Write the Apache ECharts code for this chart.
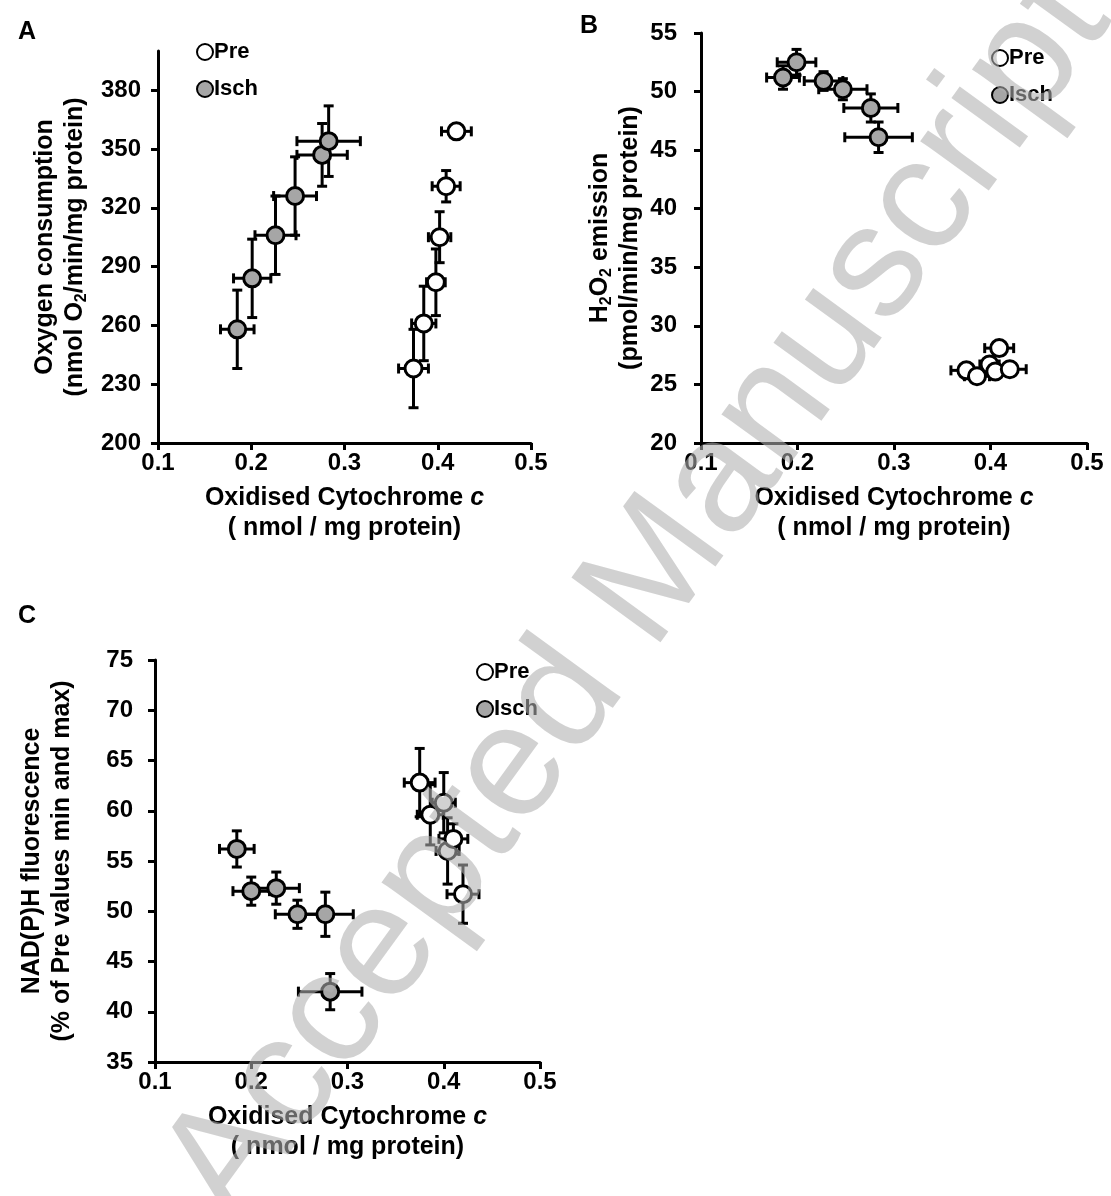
<!DOCTYPE html>
<html>
<head>
<meta charset="utf-8">
<script src="https://cdn.jsdelivr.net/npm/echarts@6/dist/echarts.min.js"></script>
<style>
  html, body { margin: 0; padding: 0; background: #fff; }
  #main { width: 1111px; height: 1196px; }
</style>
</head>
<body>
<div id="main"></div>
<script>
// --- data ---
// panel A: oxygen consumption
var aPreX = [0.374, 0.385, 0.398, 0.402, 0.409, 0.420];
var aPreY = [238, 261, 282, 305, 331, 359];
var aPreXErr = [0.016, 0.013, 0.010, 0.012, 0.015, 0.016];
var aPreYErr = [20, 19, 17, 13, 8, 3];
var aIschX = [0.185, 0.201, 0.226, 0.247, 0.276, 0.283];
var aIschY = [258, 284, 306, 326, 347, 354];
var aIschXErr = [0.018, 0.020, 0.022, 0.023, 0.027, 0.034];
var aIschYErr = [20, 20, 20, 20, 16, 18];

// panel B: H2O2 emission
var bPreX = [0.375, 0.386, 0.399, 0.405, 0.409, 0.420];
var bPreY = [26.2, 25.7, 26.7, 26.1, 28.1, 26.3];
var bPreXErr = [0.016, 0.013, 0.010, 0.012, 0.015, 0.017];
var bPreYErr = [0.5, 0.5, 0.6, 0.6, 0.5, 0.5];
var bIschX = [0.185, 0.199, 0.227, 0.247, 0.276, 0.284];
var bIschY = [51.2, 52.5, 50.9, 50.2, 48.6, 46.1];
var bIschXErr = [0.017, 0.020, 0.020, 0.025, 0.028, 0.035];
var bIschYErr = [1.0, 1.1, 0.8, 0.9, 1.2, 1.3];

// panel C: NAD(P)H fluorescence
var cPreX = [0.375, 0.386, 0.400, 0.404, 0.410, 0.420];
var cPreY = [62.8, 59.6, 60.8, 56.0, 57.2, 51.7];
var cPreXErr = [0.016, 0.0135, 0.012, 0.012, 0.015, 0.0166];
var cPreYErr = [3.4, 3.0, 3.0, 3.3, 1.5, 2.9];
var cIschX = [0.185, 0.200, 0.226, 0.248, 0.277, 0.282];
var cIschY = [56.2, 52.0, 52.3, 49.7, 49.7, 42.0];
var cIschXErr = [0.018, 0.019, 0.024, 0.023, 0.029, 0.033];
var cIschYErr = [1.8, 1.4, 1.6, 1.4, 2.2, 1.8];

// tick values
var xTicks = [0.1, 0.2, 0.3, 0.4, 0.5];
var aYTicks = [200, 230, 260, 290, 320, 350, 380];

var FONT = '"Liberation Sans", Arial, sans-serif';
var chart = echarts.init(document.getElementById('main'));

function rows(xs, ys, xe, ye) {
    var res = [];
    for (var i = 0; i < xs.length; i++) {
        res.push([xs[i], ys[i], xe ? xe[i] : 0, ye ? ye[i] : 0]);
    }
    return res;
}

// error bars, both directions, with caps
function errSeries(name, idx, xs, ys, xe, ye) {
    return {
        name: name,
        type: 'custom',
        xAxisIndex: idx,
        yAxisIndex: idx,
        z: 2,
        silent: true,
        encode: { x: 0, y: 1 },
        data: rows(xs, ys, xe, ye),
        renderItem: function (params, api) {
            var x = api.value(0), y = api.value(1);
            var dx = api.value(2), dy = api.value(3);
            var l = api.coord([x - dx, y]), r = api.coord([x + dx, y]);
            var t = api.coord([x, y + dy]), b = api.coord([x, y - dy]);
            var cap = 5;
            var st = { stroke: '#000', lineWidth: 3 };
            function ln(x1, y1, x2, y2) {
                return { type: 'line', shape: { x1: x1, y1: y1, x2: x2, y2: y2 }, style: st };
            }
            return {
                type: 'group',
                children: [
                    ln(l[0], l[1], r[0], r[1]),
                    ln(l[0], l[1] - cap, l[0], l[1] + cap),
                    ln(r[0], r[1] - cap, r[0], r[1] + cap),
                    ln(t[0], t[1], b[0], b[1]),
                    ln(t[0] - cap, t[1], t[0] + cap, t[1]),
                    ln(b[0] - cap, b[1], b[0] + cap, b[1])
                ]
            };
        }
    };
}

function dotSeries(name, idx, xs, ys, fill) {
    return {
        name: name,
        type: 'scatter',
        xAxisIndex: idx,
        yAxisIndex: idx,
        z: 3,
        symbol: 'circle',
        symbolSize: 17,
        itemStyle: { color: fill, borderColor: '#000', borderWidth: 3, opacity: 1 },
        data: rows(xs, ys)
    };
}

var tickLbl = { color: '#000', fontSize: 24, fontWeight: 'bold', fontFamily: FONT };
var nameStyle = {
    color: '#000', fontSize: 25, fontWeight: 'bold', fontFamily: FONT, lineHeight: 30,
    rich: {
        sub: { fontSize: 16, fontWeight: 'bold', fontFamily: FONT, color: '#000', lineHeight: 14, verticalAlign: 'bottom' },
        it: { fontSize: 25, fontWeight: 'bold', fontStyle: 'italic', fontFamily: FONT, color: '#000', lineHeight: 30 }
    }
};
var axLine = { show: true, lineStyle: { color: '#000', width: 3 } };
var axTick = { show: true, length: 7, lineStyle: { color: '#000', width: 3 } };

function xAx(idx) {
    return {
        type: 'value', gridIndex: idx, min: 0.1, max: 0.5, interval: 0.1,
        axisLine: axLine, axisTick: axTick, splitLine: { show: false },
        axisLabel: Object.assign({ margin: 8 }, tickLbl),
        name: 'Oxidised Cytochrome {it|c}\n( nmol / mg protein)',
        nameLocation: 'middle', nameGap: 40, nameTextStyle: nameStyle
    };
}

function yAx(idx, min, max, name, gap, margin) {
    return {
        type: 'value', gridIndex: idx, min: min, max: max,
        axisLine: axLine, axisTick: axTick, splitLine: { show: false },
        axisLabel: Object.assign({ margin: margin }, tickLbl),
        name: name, nameLocation: 'middle', nameRotate: 90, nameGap: gap,
        nameTextStyle: nameStyle
    };
}

var yA = yAx(0, 200, 400, 'Oxygen consumption\n(nmol O{sub|2}/min/mg protein)', 68, 17);
yA.axisTick = Object.assign({ customValues: aYTicks }, axTick);
yA.axisLabel.customValues = aYTicks;
var yB = yAx(1, 20, 55, 'H{sub|2}O{sub|2} emission\n(pmol/min/mg protein)', 56, 24);
yB.interval = 5;
var yC = yAx(2, 35, 75, 'NAD(P)H fluorescence\n(% of Pre values min and max)', 78, 22);
yC.interval = 5;

function legendAt(left, top) {
    return {
        orient: 'vertical', left: left, top: top, itemGap: 15,
        itemWidth: 16, itemHeight: 16, icon: 'circle',
        data: ['Pre', 'Isch'],
        textStyle: { color: '#000', fontSize: 22, fontWeight: 'bold', fontFamily: FONT, padding: [0, 0, 0, -4] }
    };
}

function letter(txt, x, y) {
    return { type: 'text', x: x, y: y, style: { text: txt, font: 'bold 25px ' + FONT, fill: '#000' } };
}

option = {
    backgroundColor: '#fff',
    animation: false,
    textStyle: { fontFamily: FONT },
    grid: [
        { left: 158, top: 51, width: 373, height: 392 },
        { left: 701, top: 33, width: 386, height: 410 },
        { left: 155, top: 660, width: 385, height: 402 }
    ],
    xAxis: [xAx(0), xAx(1), xAx(2)],
    yAxis: [yA, yB, yC],
    legend: [legendAt(191, 36), legendAt(986, 42), legendAt(471, 656)],
    series: [
        errSeries('A Pre err', 0, aPreX, aPreY, aPreXErr, aPreYErr),
        errSeries('A Isch err', 0, aIschX, aIschY, aIschXErr, aIschYErr),
        dotSeries('Pre', 0, aPreX, aPreY, '#fff'),
        dotSeries('Isch', 0, aIschX, aIschY, '#a6a6a6'),
        errSeries('B Pre err', 1, bPreX, bPreY, bPreXErr, bPreYErr),
        errSeries('B Isch err', 1, bIschX, bIschY, bIschXErr, bIschYErr),
        dotSeries('Pre', 1, bPreX, bPreY, '#fff'),
        dotSeries('Isch', 1, bIschX, bIschY, '#a6a6a6'),
        errSeries('C Pre err', 2, cPreX, cPreY, cPreXErr, cPreYErr),
        errSeries('C Isch err', 2, cIschX, cIschY, cIschXErr, cIschYErr),
        dotSeries('Pre', 2, cPreX, cPreY, '#fff'),
        dotSeries('Isch', 2, cIschX, cIschY, '#a6a6a6')
    ],
    graphic: [
        letter('A', 18, 20),
        letter('B', 580, 14),
        letter('C', 18, 604),
        // the diagonal watermark, drawn over everything
        {
            type: 'text', x: 638, y: 598, z: 100, silent: true,
            rotation: 54 * Math.PI / 180,
            style: {
                text: 'Accepted Manuscript', font: '160px ' + FONT,
                fill: 'rgba(175,175,175,0.58)', textAlign: 'center', textVerticalAlign: 'middle'
            }
        }
    ]
};

if (option && typeof option === "object") {
    chart.setOption(option, true);
}
</script>
</body>
</html>
